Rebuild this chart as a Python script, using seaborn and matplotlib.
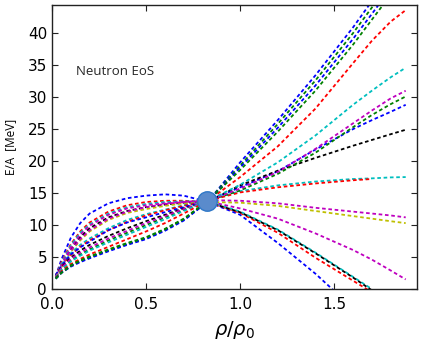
import numpy as np
import pandas as pd
import matplotlib
matplotlib.use("Agg")
import matplotlib.pyplot as plt
import seaborn as sns

nan = np.nan

rho = [0.02, 0.05, 0.1, 0.15, 0.2, 0.3, 0.4, 0.5, 0.6, 0.7, 0.83,
       1.0, 1.2, 1.4, 1.6, 1.7, 1.8, 1.88]

# E/A [MeV] for each EoS curve
blue_down = [2.0, 4.6, 8.0, 10.3, 11.8, 13.4, 14.2, 14.6, 14.8, 14.6, 13.6, 11.6, 7.2, 2.4, -3.0, nan, nan, nan]
red_down = [2.0, 4.2, 7.0, 9.0, 10.4, 12.1, 13.1, 13.6, 13.8, 13.8, 13.6, 11.9, 8.8, 4.9, 1.3, -0.5, nan, nan]
cyan_down = [1.9, 4.0, 6.8, 8.8, 10.1, 11.8, 12.8, 13.3, 13.6, 13.7, 13.7, 12.1, 9.3, 5.7, 1.9, 0.0, nan, nan]
black_down = [1.8, 3.6, 6.2, 8.1, 9.5, 11.2, 12.2, 12.8, 13.2, 13.5, 13.6, 12.0, 9.2, 5.6, 1.8, -0.2, nan, nan]
magenta_down = [1.8, 3.8, 6.5, 8.5, 9.9, 11.6, 12.6, 13.1, 13.4, 13.6, 13.7, 12.6, 11.0, 8.7, 6.1, 4.6, 2.9, 1.5]
yellow_flat = [1.7, 3.3, 5.8, 7.6, 9.0, 10.8, 11.9, 12.5, 13.0, 13.4, 13.6, 13.5, 13.0, 12.2, 11.4, 11.0, 10.6, 10.3]
magenta_flat = [1.8, 3.5, 6.0, 7.8, 9.2, 11.0, 12.1, 12.8, 13.3, 13.6, 13.9, 13.8, 13.4, 12.7, 12.1, 11.8, 11.5, 11.2]
cyan_mid = [2.1, 3.8, 5.6, 6.9, 7.9, 9.5, 10.8, 11.7, 12.4, 13.1, 13.8, 15.3, 16.2, 16.8, 17.2, 17.3, 17.45, 17.5]
red_mid = [2.0, 3.6, 5.3, 6.6, 7.6, 9.2, 10.5, 11.5, 12.3, 13.0, 13.8, 15.1, 15.9, 16.5, 17.0, 17.2, nan, nan]
blue_mid = [2.2, 3.6, 5.4, 6.5, 7.4, 9.2, 10.4, 11.2, 12.0, 12.8, 13.8, 15.9, 18.4, 21.8, 25.0, 26.4, 27.7, 28.8]
black_up = [2.0, 3.4, 4.9, 6.0, 6.9, 8.3, 9.5, 10.6, 11.6, 12.6, 13.7, 16.2, 18.5, 20.5, 22.4, 23.3, 24.2, 24.9]
green_up = [1.9, 3.0, 4.4, 5.4, 6.2, 7.6, 8.8, 10.0, 11.2, 12.4, 13.8, 15.4, 18.0, 21.3, 25.3, 27.2, 28.9, 30.1]
magenta_up = [2.0, 3.3, 4.7, 5.7, 6.5, 7.9, 9.1, 10.3, 11.4, 12.5, 13.8, 15.7, 18.3, 21.9, 25.9, 27.9, 29.8, 31.0]
cyan_up = [1.9, 3.0, 4.3, 5.2, 6.0, 7.3, 8.5, 9.7, 10.9, 12.2, 13.8, 16.3, 19.8, 24.0, 28.8, 31.0, 33.1, 34.6]
red_up = [1.8, 2.8, 3.9, 4.7, 5.4, 6.6, 7.8, 9.0, 10.3, 11.8, 13.8, 17.5, 22.3, 28.2, 35.3, 38.8, 41.8, 43.6]
blue_steep_a = [1.7, 2.6, 3.6, 4.3, 4.9, 6.0, 7.0, 7.9, 9.2, 10.8, 13.7, 19.8, 26.4, 33.4, 40.9, 45.0, 49.0, 52.0]
green_steep_a = [1.7, 2.6, 3.7, 4.5, 5.1, 6.2, 7.2, 8.1, 9.4, 11.0, 13.8, 19.3, 25.8, 32.6, 40.0, 44.0, 48.0, 51.0]
blue_steep_b = [1.6, 2.5, 3.5, 4.2, 4.8, 5.9, 6.9, 7.8, 9.1, 10.7, 13.7, 19.0, 25.2, 31.8, 39.1, 43.0, 47.0, 50.0]
green_steep_b = [1.6, 2.5, 3.6, 4.4, 5.0, 6.1, 7.1, 8.0, 9.3, 10.9, 13.8, 18.6, 24.6, 31.0, 38.2, 42.1, 46.0, 49.0]

# saturation point marker
sat_rho = [0.824]
sat_e = [13.75]

curves = {
    "blue_down": ("b", blue_down), "red_down": ("r", red_down),
    "cyan_down": ("c", cyan_down), "black_down": ("k", black_down),
    "magenta_down": ("m", magenta_down), "yellow_flat": ("y", yellow_flat),
    "magenta_flat": ("m", magenta_flat), "cyan_mid": ("c", cyan_mid),
    "red_mid": ("r", red_mid), "blue_mid": ("b", blue_mid),
    "black_up": ("k", black_up), "green_up": ("g", green_up),
    "magenta_up": ("m", magenta_up), "cyan_up": ("c", cyan_up),
    "red_up": ("r", red_up), "blue_steep_a": ("b", blue_steep_a),
    "green_steep_a": ("g", green_steep_a), "blue_steep_b": ("b", blue_steep_b),
    "green_steep_b": ("g", green_steep_b),
}
classic = {"b": "#0000ff", "g": "#008000", "r": "#ff0000", "c": "#00bfbf",
           "m": "#bf00bf", "y": "#bfbf00", "k": "#000000"}

rows = []
for name, (col, vals) in curves.items():
    for r, e in zip(rho, vals):
        if not np.isnan(e):
            rows.append((name, r, e))
df = pd.DataFrame(rows, columns=["curve", "rho", "E"])
palette = {name: classic[col] for name, (col, vals) in curves.items()}

sns.set_style("ticks")
plt.rcParams["xtick.direction"] = "in"
plt.rcParams["ytick.direction"] = "in"
plt.rcParams["xtick.top"] = True
plt.rcParams["ytick.right"] = True
plt.rcParams["font.family"] = ["DejaVu Sans"]

fig = plt.figure(figsize=(4.31, 3.46), dpi=100)
ax = fig.add_axes([0.1206, 0.1647, 0.8469, 0.8208])

sns.lineplot(data=df, x="rho", y="E", hue="curve", palette=palette,
             estimator=None, sort=False, legend=False, linewidth=1.3, ax=ax)
for line in ax.lines:
    line.set_dashes((2, 1.5))

# saturation point
ax.plot(sat_rho, sat_e, "o", ms=14, color="#5a8bcc", mec="#2f78c8",
        mew=1.0, zorder=10)

ax.set_xlim(0, 1.94)
ax.set_ylim(0, 44.4)
ax.set_xticks([0.0, 0.5, 1.0, 1.5])
ax.set_yticks([0, 5, 10, 15, 20, 25, 30, 35, 40])
ax.tick_params(labelsize=11, length=4, width=0.8, color="#222222",
               labelcolor="black")
ax.tick_params(axis="x", pad=6)
for s in ax.spines.values():
    s.set_linewidth(1.0)
    s.set_color("#222222")

ax.set_xlabel(r"$\rho/\rho_0$", fontsize=14, labelpad=5, color="black")
ax.set_ylabel("E/A  [MeV]", fontsize=8.5, family=["Open Sans", "DejaVu Sans"],
              labelpad=8, color="black")
ax.text(0.13, 34, "Neutron EoS", fontsize=9.5, family=["Open Sans", "DejaVu Sans"],
        va="center", ha="left")

fig.savefig("out.png", dpi=100)
